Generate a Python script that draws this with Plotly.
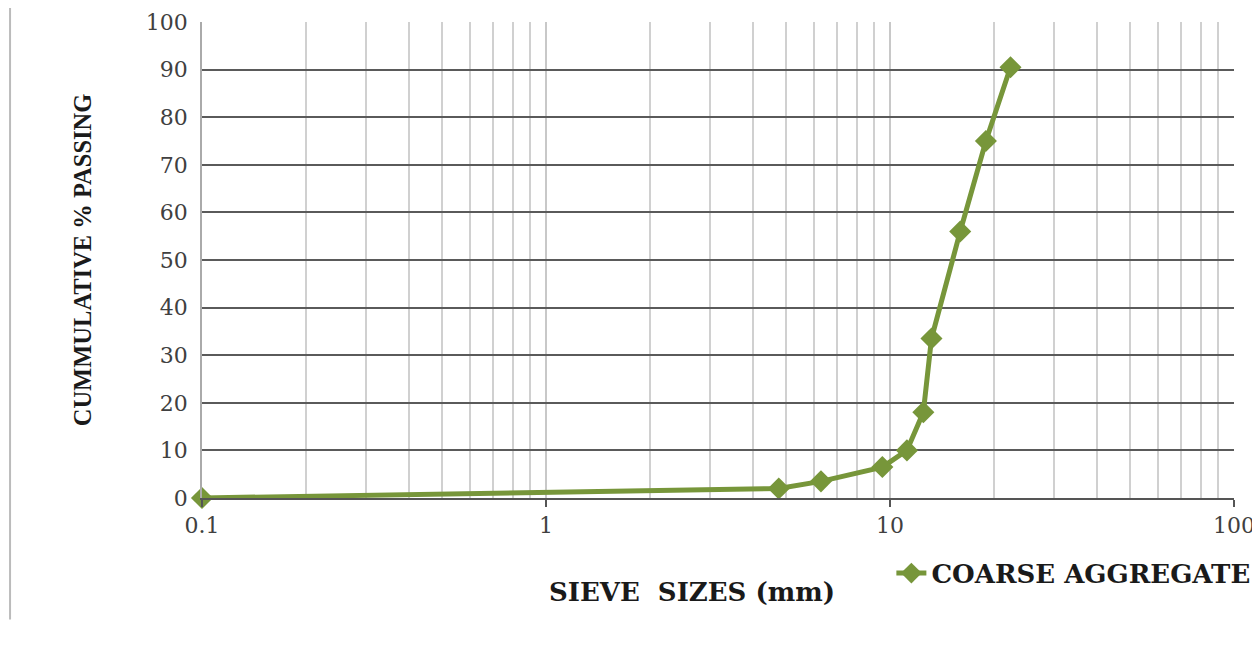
import plotly.graph_objects as go

# Data
sieve_sizes_mm = [0.1, 4.75, 6.3, 9.5, 11.2, 12.5, 13.2, 16, 19, 22.4]
cum_passing = [0, 2, 3.5, 6.5, 10, 18, 33.5, 56, 75, 90.5]
series_name = "COARSE AGGREGATE"
x_tick_vals = [0.1, 1, 10, 100]
x_tick_text = ["0.1", "1", "10", "100"]
y_tick_vals = [0, 10, 20, 30, 40, 50, 60, 70, 80, 90, 100]

GREEN = "#77963a"
TICK_FONT = dict(family="DejaVu Serif", size=22, color="#404040")

fig = go.Figure()
fig.add_trace(go.Scatter(
    x=sieve_sizes_mm, y=cum_passing, name="<b>" + series_name + "</b>",
    mode="lines+markers", cliponaxis=False,
    line=dict(color=GREEN, width=5),
    marker=dict(symbol="diamond", size=17, color=GREEN),
))

# page body has an 8px margin, so figure is 8px smaller and offset
fig.update_layout(
    width=1252, height=639,
    paper_bgcolor="white", plot_bgcolor="white",
    margin=dict(l=194, r=26, t=14, b=149, autoexpand=False),
    showlegend=True,
    legend=dict(x=0.668, y=-0.158, xanchor="left", yanchor="middle",
                font=dict(family="DejaVu Serif", size=26, color="#1a1a1a"),
                bgcolor="rgba(0,0,0,0)", itemwidth=30),
    xaxis=dict(
        type="log", range=[-1, 2], automargin=False,
        tickmode="array", tickvals=x_tick_vals, ticktext=x_tick_text,
        showgrid=True, gridcolor="#c8c8c8", gridwidth=1.5,
        minor=dict(dtick="D1", showgrid=True, gridcolor="#d0d0d0", gridwidth=1.5, ticks=""),
        showline=True, linecolor="#555555", linewidth=2,
        ticks="outside", ticklen=7, tickcolor="#555555", tickwidth=2,
        tickfont=TICK_FONT,
        zeroline=False,
    ),
    yaxis=dict(
        range=[0, 100], tickmode="array", tickvals=y_tick_vals, automargin=False,
        showgrid=True, gridcolor="#5a5a5a", gridwidth=2,
        showline=True, linecolor="#aaaaaa", linewidth=1.5,
        ticks="", ticklabelstandoff=8,
        tickfont=TICK_FONT,
        title=dict(text="<b>CUMMULATIVE % PASSING</b>",
                   font=dict(family="Liberation Serif", size=24.5, color="#1a1a1a"), standoff=47),
        zeroline=False,
    ),
)

# x-axis title (positioned left of centre as in the reference)
fig.add_annotation(text="<b>SIEVE&nbsp;&nbsp;SIZES (mm)</b>", xref="paper", yref="paper",
                   x=0.475, y=-0.198, xanchor="center", yanchor="middle", showarrow=False,
                   font=dict(family="DejaVu Serif", size=26, color="#1a1a1a"))

# left page border line
fig.add_shape(type="line", xref="paper", yref="paper",
              x0=-0.186, x1=-0.186, y0=-0.255, y1=1.05,
              line=dict(color="#bbbbbb", width=2))

fig.write_html("out.html")
